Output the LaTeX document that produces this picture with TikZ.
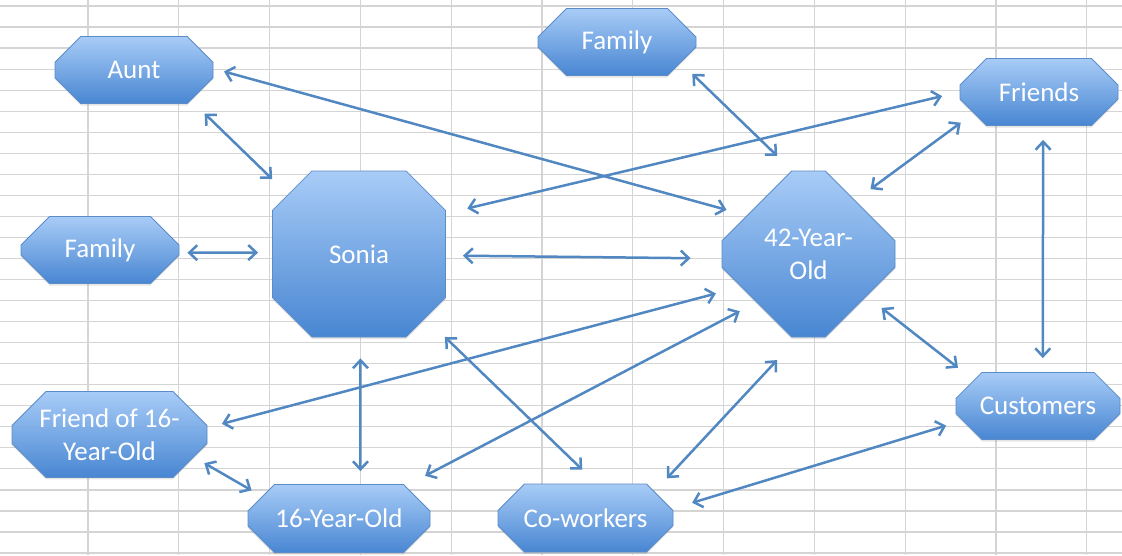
\documentclass[tikz,border=0pt]{standalone}
\usepackage{fontspec}
\setmainfont{Carlito}
\usetikzlibrary{shapes.misc,arrows.meta,shadows}

\definecolor{gridgray}{RGB}{212,212,212}
\definecolor{boxtop}{RGB}{168,204,247}
\definecolor{boxbot}{RGB}{72,134,210}
\definecolor{boxline}{RGB}{92,140,200}
\definecolor{linkblue}{RGB}{82,136,194}

\begin{document}
\begin{tikzpicture}[x=1pt,y=-1pt,>={Straight Barb[length=8pt,width=15pt]},
  gridline/.style={draw=gridgray,line width=1.2pt},
  person/.style={chamfered rectangle,chamfered rectangle xsep=17pt,chamfered rectangle ysep=17pt,
    top color=boxtop,bottom color=boxbot,draw=boxline,line width=0.8pt,inner sep=0pt,
    minimum width=158pt,minimum height=67pt,text=white,align=center,
    drop shadow={opacity=0.2,shadow xshift=0pt,shadow yshift=-2pt},
    font=\fontsize{27}{33}\selectfont},
  hub/.style={person,chamfered rectangle xsep=49pt,chamfered rectangle ysep=49pt,
    minimum width=173pt,minimum height=166pt},
  link/.style={draw=linkblue,line width=2.5pt,<->}]
\useasboundingbox (0,0) rectangle (1122,555);
\fill[white] (0,0) rectangle (1122,555);
% sheet
\foreach \gx in {0,...,11}
  \draw[gridline] ({88+90.8*\gx},0) -- ({88+90.8*\gx},555);
\foreach \gy in {0,...,26}
  \draw[gridline] (0,{6+21.04*\gy}) -- (1122,{6+21.04*\gy});
% people
\node[person] (aunt) at (134,70) {Aunt};
\node[person] (famtop) at (617,42) {Family};
\node[person] (friends) at (1039,92) {Friends};
\node[person] (famleft) at (100,250) {Family};
\node[hub] (sonia) at (359,254) {Sonia};
\node[hub] (old42) at (808.5,254) {42-Year-\\Old};
\node[person,minimum width=195pt] (friend16) at (109.5,434.5) {Friend of 16-\\Year-Old};
\node[person,minimum width=182pt,minimum height=68pt] (yr16) at (339,518.5) {16-Year-Old};
\node[person,minimum width=175pt,minimum height=68pt] (cowork) at (585.5,518) {Co-workers};
\node[person,minimum width=164pt] (customers) at (1038,406) {Customers};
% links
\draw[link,shorten <=11pt,shorten >=21pt] (aunt.1) -- (old42.148);
\draw[link,shorten <=19pt,shorten >=22pt] (aunt.-28) -- (sonia.140);
\draw[link,shorten <=8pt,shorten >=14pt] (famleft.-2) -- (sonia.179);
\draw[link,shorten <=17pt,shorten >=31pt] (sonia.-1) -- (old42.183);
\draw[link,shorten <=22pt,shorten >=18pt] (sonia.25) -- (friends.180);
\draw[link,shorten <=16pt,shorten >=21pt] (famtop.-18) -- (old42.101);
\draw[link,shorten <=19pt,shorten >=16pt] (old42.49) -- (friends.198);
\draw[link,shorten <=14pt,shorten >=14pt] (friends.277) -- (customers.82);
\draw[link,shorten <=19pt,shorten >=20pt] (old42.-36) -- (customers.158);
\draw[link,shorten <=17pt,shorten >=21pt] (customers.191) -- (cowork.6);
\draw[link,shorten <=31pt,shorten >=18pt] (old42.263) -- (cowork.21);
\draw[link,shorten <=19pt,shorten >=22pt] (old42.223) -- (yr16.26);
\draw[link,shorten <=27pt,shorten >=20pt] (sonia.-44) -- (cowork.72);
\draw[link,shorten <=21pt,shorten >=13pt] (sonia.271) -- (yr16.58);
\draw[link,shorten <=15pt,shorten >=26pt] (friend16.4) -- (old42.206);
\draw[link,shorten <=12pt,shorten >=12pt] (friend16.-15) -- (yr16.164);
\end{tikzpicture}
\end{document}
